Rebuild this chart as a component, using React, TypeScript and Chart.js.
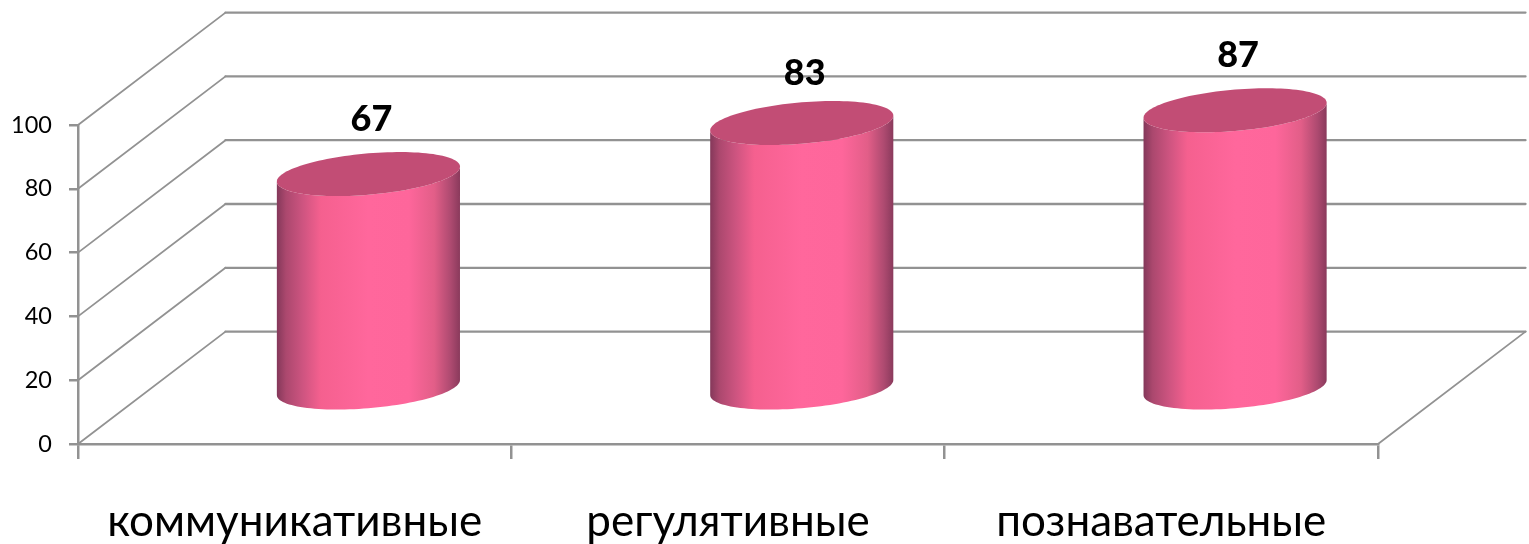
import React, { useEffect, useRef } from "react";
import { Chart, registerables } from "chart.js";

Chart.register(...registerables);

const categories = ["коммуникативные", "регулятивные", "познавательные"];
const seriesValues = [67, 83, 87];
const yMin = 0;
const yMax = 100;
const yStep = 20;

const GRID = "#929292";
const TOP_COLOR = "#c24d75";
const FONT = "Lato, 'Noto Sans', sans-serif";
const DEPTH_X = 147.5;
const DEPTH_Y = 112.4;
const SHEAR = -0.082;
const ELLIPSE_B = 20.7;
const LABEL_LIFT = 55;
const LABEL_NUDGE_Y = [0, 5, 0];

const walls3d = {
  id: "walls3d",
  beforeDatasetsDraw(chart: any) {
    const { ctx, scales } = chart;
    const x = scales.x;
    const y = scales.y;
    const left = x.left;
    const right = x.right;
    const floor = y.getPixelForValue(yMin);
    ctx.save();
    ctx.strokeStyle = GRID;
    ctx.lineCap = "round";
    y.ticks.forEach((t: any) => {
      const py = y.getPixelForValue(t.value);
      ctx.lineWidth = 1.8;
      ctx.beginPath();
      ctx.moveTo(left, py);
      ctx.lineTo(left + DEPTH_X, py - DEPTH_Y);
      ctx.stroke();
      ctx.lineWidth = 2.3;
      ctx.beginPath();
      ctx.moveTo(left + DEPTH_X, py - DEPTH_Y);
      ctx.lineTo(right + DEPTH_X, py - DEPTH_Y);
      ctx.stroke();
    });
    ctx.lineWidth = 1.8;
    ctx.beginPath();
    ctx.moveTo(right, floor);
    ctx.lineTo(right + DEPTH_X, floor - DEPTH_Y);
    ctx.stroke();
    ctx.restore();
  },
};

const cylinders3d = {
  id: "cylinders3d",
  afterDatasetsDraw(chart: any) {
    const { ctx } = chart;
    const meta = chart.getDatasetMeta(0);
    meta.data.forEach((bar: any, i: number) => {
      const a = bar.width / 2;
      const cx = bar.x + DEPTH_X / 2;
      const topY = bar.y - DEPTH_Y / 2;
      const baseY = bar.base - DEPTH_Y / 2 + 1;
      const pt = (cy: number, t: number) => {
        const ex = a * Math.cos(t);
        return [cx + ex, cy + ELLIPSE_B * Math.sin(t) + SHEAR * ex];
      };
      const g = ctx.createLinearGradient(cx - a, 0, cx + a, 0);
      g.addColorStop(0, "#84385a");
      g.addColorStop(0.05, "#ab486e");
      g.addColorStop(0.14, "#cd5480");
      g.addColorStop(0.24, "#f5608f");
      g.addColorStop(0.5, "#ff679c");
      g.addColorStop(0.72, "#fe669b");
      g.addColorStop(0.86, "#e25e88");
      g.addColorStop(0.95, "#ad4a70");
      g.addColorStop(1, "#8a3a5c");
      ctx.save();
      ctx.fillStyle = g;
      ctx.beginPath();
      for (let k = 0; k <= 60; k++) {
        const [px, py] = pt(baseY, Math.PI - (Math.PI * k) / 60);
        k === 0 ? ctx.moveTo(px, py) : ctx.lineTo(px, py);
      }
      for (let k = 0; k <= 60; k++) {
        const [px, py] = pt(topY, (Math.PI * k) / 60);
        ctx.lineTo(px, py);
      }
      ctx.closePath();
      ctx.fill();
      ctx.fillStyle = TOP_COLOR;
      ctx.beginPath();
      for (let k = 0; k <= 120; k++) {
        const [px, py] = pt(topY, (2 * Math.PI * k) / 120);
        k === 0 ? ctx.moveTo(px, py) : ctx.lineTo(px, py);
      }
      ctx.closePath();
      ctx.fill();
      ctx.fillStyle = "#000";
      ctx.font = `900 36px ${FONT}`;
      ctx.textAlign = "center";
      ctx.textBaseline = "middle";
      ctx.fillText(
        String(seriesValues[i]),
        cx + 3,
        topY - LABEL_LIFT + LABEL_NUDGE_Y[i]
      );
      ctx.restore();
    });
  },
};

export default function App() {
  const ref = useRef<HTMLCanvasElement>(null);
  useEffect(() => {
    const chart = new Chart(ref.current as HTMLCanvasElement, {
      type: "bar",
      data: {
        labels: categories,
        datasets: [
          {
            data: seriesValues,
            backgroundColor: "rgba(0,0,0,0)",
            barPercentage: 1,
            categoryPercentage: 0.4226,
          },
        ],
      },
      options: {
        responsive: false,
        animation: false,
        layout: { padding: { top: 125, right: 151, left: 0, bottom: 0 } },
        plugins: { legend: { display: false }, tooltip: { enabled: false } },
        scales: {
          x: {
            grid: { drawOnChartArea: false, color: GRID, lineWidth: 2.5, tickLength: 15, offset: true },
            border: { color: GRID, width: 2.5 },
            ticks: {
              color: "#000",
              font: { family: FONT, size: 44 },
              padding: 36,
              maxRotation: 0,
            },
            afterFit(s: any) {
              s.height = 100;
            },
          },
          y: {
            min: yMin,
            max: yMax,
            grid: { drawOnChartArea: false, color: GRID, lineWidth: 2.5, tickLength: 9 },
            border: { color: GRID, width: 2.5 },
            ticks: {
              stepSize: yStep,
              color: "#000",
              font: { family: FONT, size: 23.5 },
              padding: 17,
            },
            afterFit(s: any) {
              s.width = 78;
            },
          },
        },
      },
      plugins: [walls3d, cylinders3d],
    } as any);
    return () => chart.destroy();
  }, []);
  return (
    <canvas
      ref={ref}
      width={1529}
      height={544}
      style={{ position: "fixed", left: 0, top: 0, display: "block" }}
    />
  );
}
